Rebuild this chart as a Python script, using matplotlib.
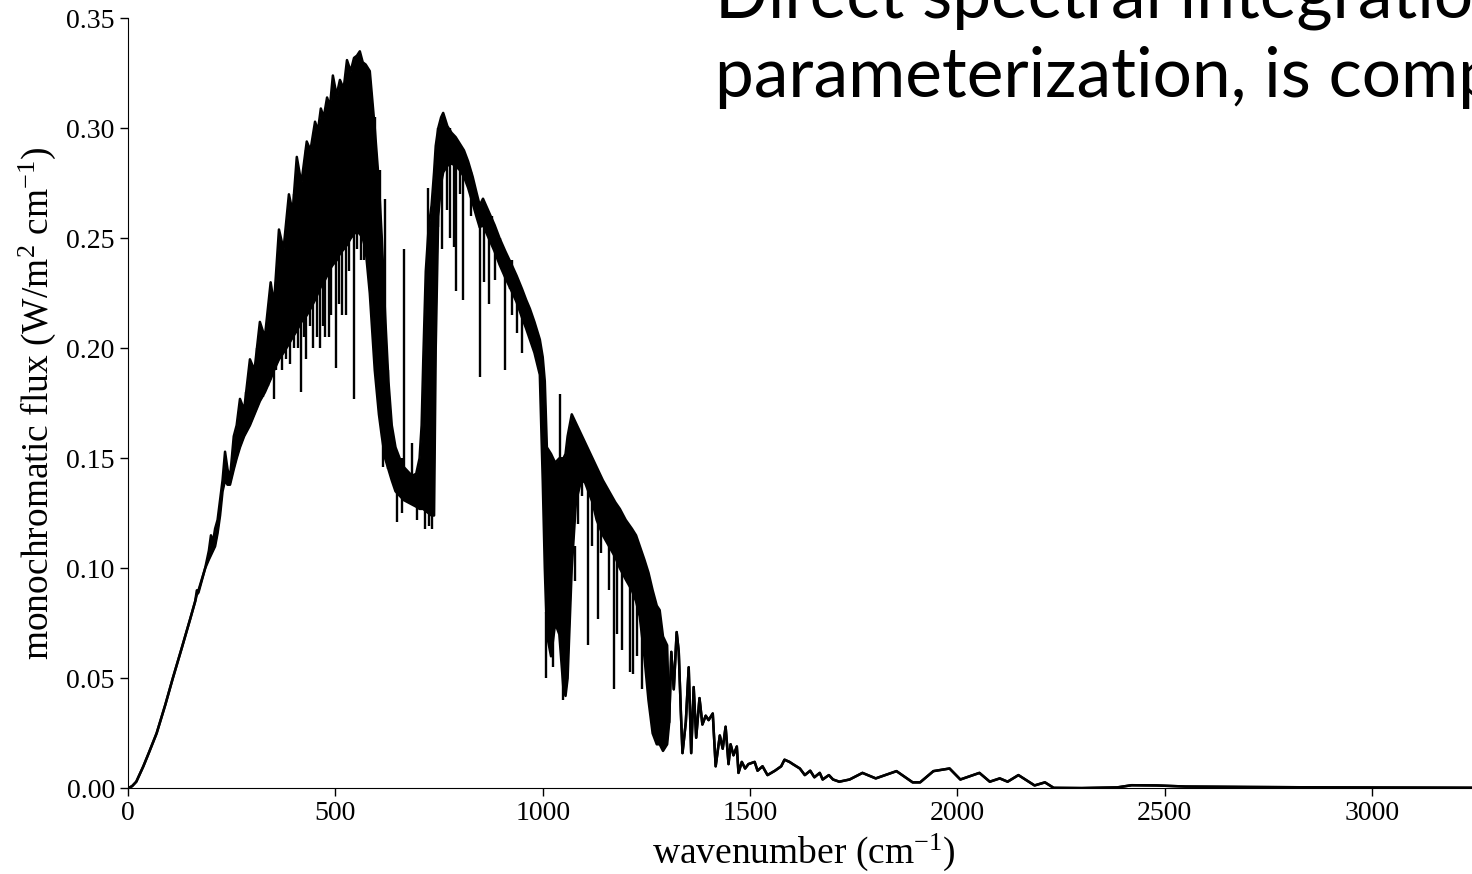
import matplotlib
matplotlib.use("Agg")
import matplotlib.pyplot as plt
from matplotlib.ticker import FormatStrFormatter

# ---- data ----
wavenumber = [0, 10, 20, 37, 50, 69, 90, 108, 130, 150, 162, 166, 170, 186, 195, 200, 205, 210, 216, 222,
              228, 234, 240, 246, 255, 262, 270, 280, 294, 305, 318, 330, 344, 352, 364, 375, 388, 397, 407, 418,
              431, 440, 451, 458, 465, 472, 480, 487, 494, 503, 511, 520, 528, 537, 545, 552, 559, 566, 573, 583,
              595, 605, 612, 620, 628, 636, 645, 655, 665, 675, 685, 695, 703, 708, 712, 718, 725, 732, 738, 742,
              748, 755, 760, 770, 780, 790, 800, 810, 820, 831, 840, 848, 856, 870, 884, 896, 910, 925, 937, 950,
              960, 969, 980, 993, 1000, 1005, 1010, 1020, 1030, 1040, 1050, 1055, 1060, 1070, 1080, 1090, 1100, 1110, 1120, 1130,
              1145, 1160, 1175, 1186, 1200, 1215, 1225, 1234, 1245, 1255, 1265, 1275, 1282, 1290, 1300,
              1305, 1310, 1316, 1323, 1328, 1333, 1337, 1345, 1352, 1358, 1364, 1370, 1378, 1385, 1393, 1400, 1410, 1417,
              1427, 1434, 1441, 1448, 1453, 1460, 1468, 1472, 1480, 1488, 1496, 1511, 1518, 1530, 1542, 1560, 1575, 1583,
              1595, 1603, 1620, 1632, 1645, 1655, 1668, 1675, 1690, 1700, 1715, 1740, 1771, 1803, 1853, 1892, 1910, 1942,
              1981, 2007, 2053, 2078, 2102, 2121, 2147, 2186, 2211, 2232, 2300, 2385, 2420, 2480, 2550, 2700, 2900, 3100, 3300]

flux_upper = [0.000, 0.001, 0.003, 0.010, 0.016, 0.025, 0.038, 0.050, 0.064, 0.077, 0.085, 0.090, 0.090, 0.100, 0.108, 0.115, 0.112, 0.118, 0.122, 0.131,
              0.140, 0.153, 0.145, 0.141, 0.160, 0.165, 0.177, 0.172, 0.195, 0.190, 0.212, 0.205, 0.230, 0.220, 0.254, 0.245, 0.270, 0.262, 0.287, 0.275,
              0.294, 0.290, 0.303, 0.299, 0.309, 0.305, 0.314, 0.310, 0.324, 0.315, 0.322, 0.318, 0.331, 0.326, 0.332, 0.333, 0.335, 0.330, 0.329, 0.326,
              0.300, 0.275, 0.250, 0.215, 0.185, 0.165, 0.155, 0.150, 0.146, 0.144, 0.142, 0.143, 0.150, 0.165, 0.195, 0.235, 0.255, 0.265, 0.280, 0.292,
              0.300, 0.305, 0.307, 0.301, 0.298, 0.296, 0.293, 0.290, 0.285, 0.278, 0.271, 0.265, 0.268, 0.262, 0.256, 0.250, 0.244, 0.238, 0.233, 0.227,
              0.222, 0.218, 0.212, 0.204, 0.196, 0.185, 0.155, 0.152, 0.148, 0.150, 0.150, 0.152, 0.160, 0.170, 0.166, 0.162, 0.158, 0.154, 0.150, 0.146,
              0.140, 0.135, 0.130, 0.127, 0.122, 0.118, 0.115, 0.110, 0.104, 0.098, 0.090, 0.083, 0.081, 0.069, 0.065,
              0.030, 0.062, 0.045, 0.071, 0.062, 0.035, 0.016, 0.030, 0.055, 0.016, 0.046, 0.023, 0.041, 0.029, 0.033, 0.031, 0.034, 0.010,
              0.024, 0.018, 0.028, 0.011, 0.020, 0.015, 0.019, 0.007, 0.012, 0.009, 0.011, 0.012, 0.008, 0.010, 0.006, 0.008, 0.010, 0.013,
              0.012, 0.011, 0.009, 0.006, 0.008, 0.005, 0.007, 0.004, 0.006, 0.004, 0.003, 0.004, 0.007, 0.0045, 0.0078, 0.0027, 0.0027, 0.0078,
              0.009, 0.004, 0.007, 0.003, 0.0045, 0.003, 0.006, 0.0013, 0.0027, 0.0002, 0.0001, 0.0004, 0.0014, 0.0013, 0.0008, 0.0006, 0.0004, 0.0003, 0.0002]

flux_lower = [0.000, 0.001, 0.003, 0.010, 0.016, 0.025, 0.038, 0.050, 0.064, 0.077, 0.085, 0.088, 0.089, 0.100, 0.104, 0.106, 0.108, 0.110, 0.116, 0.124,
              0.135, 0.140, 0.138, 0.138, 0.145, 0.150, 0.155, 0.160, 0.165, 0.170, 0.176, 0.180, 0.186, 0.190, 0.195, 0.198, 0.202, 0.205, 0.208, 0.212,
              0.215, 0.218, 0.222, 0.225, 0.228, 0.230, 0.233, 0.236, 0.238, 0.240, 0.243, 0.245, 0.247, 0.250, 0.252, 0.253, 0.252, 0.250, 0.245, 0.225,
              0.190, 0.170, 0.160, 0.150, 0.145, 0.140, 0.135, 0.133, 0.131, 0.130, 0.129, 0.128, 0.127, 0.127, 0.127, 0.126, 0.125, 0.124, 0.124, 0.200,
              0.260, 0.275, 0.280, 0.283, 0.284, 0.283, 0.281, 0.278, 0.273, 0.266, 0.260, 0.255, 0.256, 0.250, 0.244, 0.238, 0.232, 0.226, 0.221, 0.214,
              0.209, 0.204, 0.198, 0.188, 0.140, 0.100, 0.070, 0.060, 0.075, 0.070, 0.045, 0.042, 0.050, 0.100, 0.130, 0.138, 0.140, 0.135, 0.130, 0.122,
              0.115, 0.110, 0.105, 0.100, 0.095, 0.090, 0.085, 0.078, 0.060, 0.040, 0.025, 0.020, 0.020, 0.017, 0.020,
              0.030, 0.062, 0.045, 0.071, 0.062, 0.035, 0.016, 0.030, 0.055, 0.016, 0.046, 0.023, 0.041, 0.029, 0.033, 0.031, 0.034, 0.010,
              0.024, 0.018, 0.028, 0.011, 0.020, 0.015, 0.019, 0.007, 0.012, 0.009, 0.011, 0.012, 0.008, 0.010, 0.006, 0.008, 0.010, 0.013,
              0.012, 0.011, 0.009, 0.006, 0.008, 0.005, 0.007, 0.004, 0.006, 0.004, 0.003, 0.004, 0.007, 0.0045, 0.0078, 0.0027, 0.0027, 0.0078,
              0.009, 0.004, 0.007, 0.003, 0.0045, 0.003, 0.006, 0.0013, 0.0027, 0.0002, 0.0001, 0.0004, 0.0014, 0.0013, 0.0008, 0.0006, 0.0004, 0.0003, 0.0002]

# individual absorption lines (vertical strokes) : position, bottom, top
spike_wavenumber = [285, 300, 312, 326, 338, 352, 358, 371, 380, 390, 400, 410, 417, 424, 430, 438, 447, 455,
                    463, 470, 476, 484, 490, 501, 508, 517, 525, 532, 545, 552, 562, 570, 577,
                    595, 607, 615, 619, 626, 648, 660, 665, 684, 697, 716, 723, 725, 733,
                    748, 757, 770, 776, 786, 792, 800, 808, 828, 836, 848, 858, 870, 878, 884, 896, 908, 920, 926, 938, 949, 962,
                    1009, 1025, 1041, 1049, 1077, 1085, 1095, 1109, 1118, 1133, 1140, 1160, 1173, 1180, 1192, 1210, 1218, 1228, 1240]
spike_low = [0.170, 0.168, 0.178, 0.178, 0.183, 0.177, 0.190, 0.190, 0.195, 0.193, 0.200, 0.200, 0.180, 0.205, 0.195, 0.210, 0.200, 0.205,
             0.200, 0.210, 0.205, 0.205, 0.215, 0.191, 0.220, 0.215, 0.215, 0.235, 0.177, 0.245, 0.240, 0.240, 0.243,
             0.200, 0.171, 0.146, 0.150, 0.145, 0.121, 0.125, 0.133, 0.130, 0.122, 0.118, 0.125, 0.119, 0.118,
             0.255, 0.245, 0.263, 0.250, 0.246, 0.226, 0.270, 0.222, 0.260, 0.265, 0.187, 0.230, 0.220, 0.250, 0.231, 0.240, 0.190, 0.227, 0.215, 0.207, 0.198, 0.212,
             0.050, 0.055, 0.070, 0.040, 0.094, 0.120, 0.133, 0.065, 0.110, 0.077, 0.107, 0.090, 0.045, 0.070, 0.063, 0.053, 0.052, 0.060, 0.045]
spike_high = [0.180, 0.190, 0.200, 0.200, 0.210, 0.210, 0.230, 0.240, 0.250, 0.260, 0.270, 0.270, 0.270, 0.280, 0.290, 0.290, 0.290, 0.300,
              0.300, 0.300, 0.300, 0.310, 0.310, 0.310, 0.315, 0.310, 0.320, 0.325, 0.330, 0.330, 0.330, 0.325, 0.320,
              0.305, 0.281, 0.200, 0.268, 0.190, 0.150, 0.150, 0.245, 0.157, 0.140, 0.130, 0.273, 0.130, 0.130,
              0.300, 0.300, 0.300, 0.300, 0.290, 0.290, 0.290, 0.290, 0.280, 0.270, 0.260, 0.260, 0.260, 0.260, 0.250, 0.250, 0.240, 0.240, 0.240, 0.230, 0.220, 0.220,
              0.080, 0.080, 0.179, 0.060, 0.110, 0.140, 0.140, 0.140, 0.140, 0.130, 0.130, 0.120, 0.110, 0.110, 0.110, 0.100, 0.100, 0.090, 0.080]

x_ticks = [0, 500, 1000, 1500, 2000, 2500, 3000]
y_ticks = [0.00, 0.05, 0.10, 0.15, 0.20, 0.25, 0.30, 0.35]

# ---- figure ----
plt.rcParams['font.family'] = ['Liberation Serif', 'DejaVu Serif']
plt.rcParams['mathtext.fontset'] = 'custom'
plt.rcParams['mathtext.rm'] = 'Liberation Serif'
plt.rcParams['mathtext.it'] = 'Liberation Serif:italic'

fig = plt.figure(figsize=(14.72, 8.74), dpi=100)
ax = fig.add_axes([128 / 1472, (874 - 788.3) / 874, 1352 / 1472, 770 / 874])

ax.fill_between(wavenumber, flux_lower, flux_upper, color='black', linewidth=0)
ax.plot(wavenumber, flux_upper, color='black', linewidth=1.8)
ax.plot(wavenumber, flux_lower, color='black', linewidth=1.8)
ax.vlines(spike_wavenumber, spike_low, spike_high, color='black', linewidth=1.7)

ax.set_xlim(0, 3260)
ax.set_ylim(0, 0.35)
ax.set_xticks(x_ticks)
ax.set_yticks(y_ticks)
ax.yaxis.set_major_formatter(FormatStrFormatter('%.2f'))
ax.tick_params(labelsize=20, length=6, width=1, direction='out')
for s in ['top', 'right']:
    ax.spines[s].set_visible(False)

ax.set_xlabel('wavenumber (cm$^{-1}$)', fontsize=27, labelpad=4)
ax.set_ylabel('monochromatic flux (W/m$^2$ cm$^{-1}$)', fontsize=27, labelpad=6)

# slide title text overlapping the chart (cut off at the right, as in the reference)
fig.text(715 / 1472, (874 - 17) / 874, 'Direct spectral integration',
         fontsize=50, family='Lato', va='baseline', ha='left')
fig.text(715 / 1472, (874 - 97) / 874, 'parameterization, is comp',
         fontsize=50, family='Lato', va='baseline', ha='left')

fig.savefig('out.png', dpi=100)
